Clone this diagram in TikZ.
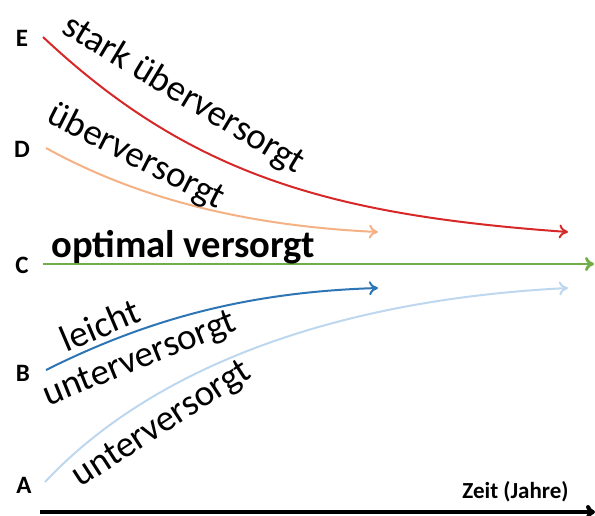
\documentclass[tikz,border=0pt]{standalone}
\usepackage{fontspec}
\setmainfont{Carlito}
\usetikzlibrary{arrows.meta}
\definecolor{starkrot}{RGB}{214,40,40}
\definecolor{hellorange}{RGB}{244,177,131}
\definecolor{gruen}{RGB}{112,173,71}
\definecolor{mittelblau}{RGB}{46,117,182}
\definecolor{hellblau}{RGB}{189,215,238}
\begin{document}
\begin{tikzpicture}[x=0.5pt,y=-0.5pt,>={To[length=4.5pt,width=7pt]}]
\useasboundingbox (0,0) rectangle (595,515);
\tikzstyle{every node}=[inner sep=0pt];
\tikzstyle{stufe}=[font=\fontsize{12.5}{14}\selectfont\bfseries];
\tikzstyle{zustand}=[font=\fontsize{18.5}{20}\selectfont];
% Stufen
\node[stufe] (E) at (22,38) {E};
\node[stufe] (D) at (22,149) {D};
\node[stufe] (C) at (22,265) {C};
\node[stufe] (B) at (23,373) {B};
\node[stufe] (A) at (24,485) {A};
% Kurven
\coordinate (e0) at (43,37);   \coordinate (e1) at (568,232);
\coordinate (d0) at (46,148);  \coordinate (d1) at (378,232);
\coordinate (c0) at (43,264);  \coordinate (c1) at (594,264);
\coordinate (b0) at (46,370);  \coordinate (b1) at (378,288);
\coordinate (a0) at (45,482);  \coordinate (a1) at (568,288);
\draw [->, starkrot, line width=1pt] (e0) .. controls (190,175) and (330,215) .. (e1);
\draw [->, hellorange, line width=1pt] (d0) .. controls (140,200) and (250,226) .. (d1);
\draw [->, gruen, line width=1.4pt] (c0) -- (c1);
\draw [->, mittelblau, line width=1pt] (b0) .. controls (150,318) and (250,292) .. (b1);
\draw [->, hellblau, line width=1pt] (a0) .. controls (150,370) and (330,300) .. (a1);
% Texte
\node[zustand, rotate=-31] (t1) at (183,95) {stark überversorgt};
\node[zustand, rotate=-27] (t2) at (136,157) {überversorgt};
\node[font=\fontsize{19.3}{21}\selectfont\bfseries, anchor=base west] (t3) at (51,257) {optimal versorgt};
\node[zustand, rotate=23] (t4) at (100,325) {leicht};
\node[zustand, rotate=22] (t5) at (140,360) {unterversorgt};
\node[zustand, rotate=33] (t6) at (162,425) {unterversorgt};
% Zeitachse
\coordinate (z0) at (40,512);
\coordinate (z1) at (595,512);
\draw [->, line width=2pt] (z0) -- (z1);
\node[font=\fontsize{11.5}{13}\selectfont\bfseries, anchor=base east] (zeit) at (569,498) {Zeit (Jahre)};
\end{tikzpicture}
\end{document}
